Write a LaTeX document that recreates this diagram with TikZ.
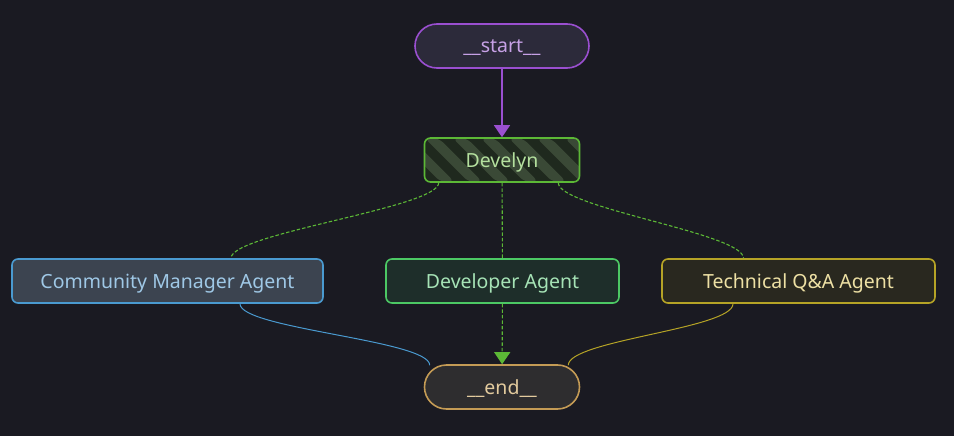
\documentclass[tikz,border=0pt]{standalone}
\usepackage{fontspec}
\setmainfont{Noto Sans}
\usetikzlibrary{arrows.meta}

\definecolor{bg}{HTML}{1A1A22}
\definecolor{purpleline}{HTML}{9A4FD0}
\definecolor{startfill}{HTML}{2C2A3A}
\definecolor{starttext}{HTML}{C7A1E6}
\definecolor{devgreen}{HTML}{5CB836}
\definecolor{stripedark}{HTML}{1F291E}
\definecolor{stripelight}{HTML}{3A4936}
\definecolor{develyntext}{HTML}{B4E09E}
\definecolor{cmafill}{HTML}{3C4450}
\definecolor{cmaline}{HTML}{4A9AD0}
\definecolor{cmatext}{HTML}{9FC8E6}
\definecolor{devfill}{HTML}{1E2E2A}
\definecolor{devline}{HTML}{4CC864}
\definecolor{devtext}{HTML}{A6E3B6}
\definecolor{tqafill}{HTML}{29281F}
\definecolor{tqaline}{HTML}{B5A326}
\definecolor{tqatext}{HTML}{EDE0A4}
\definecolor{endfill}{HTML}{2E2D2F}
\definecolor{endline}{HTML}{C49B55}
\definecolor{endtext}{HTML}{E3CB9E}

\begin{document}
\begin{tikzpicture}[x=1pt,y=-1pt,
box/.style={draw,line width=1.6pt,rounded corners=6pt,minimum height=44pt,
 inner sep=0pt,text height=14pt,text depth=0pt,font=\fontsize{19.5}{22}\selectfont},
term/.style={box,rounded corners=22pt},
flow/.style={draw=devgreen,line width=1.1pt,dash pattern=on 3.5pt off 2pt},
tip/.style={-{Triangle[width=16pt,length=12pt]}}]
 \fill[bg] (0,0) rectangle (954,436);

 \node[term,fill=startfill,draw=purpleline,text=starttext,minimum width=174pt]
 (start) at (502,46) {\_\_start\_\_};
 \node[box,fill=stripedark,draw=devgreen,text=develyntext,minimum width=155pt,
 path picture={
 \foreach \k in {-2,...,6}
 {\fill[stripelight] ([xshift=\k*28pt]path picture bounding box.north west)
 -- ++(14pt,0pt) -- ++(44pt,-44pt) -- ++(-14pt,0pt) -- cycle;}}]
 (develyn) at (502,160) {Develyn};

 \node[box,fill=cmafill,draw=cmaline,text=cmatext,minimum width=311pt]
 (cma) at (167.5,281) {Community Manager Agent};
 \node[box,fill=devfill,draw=devline,text=devtext,minimum width=233pt]
 (dev) at (502.5,281) {Developer Agent};
 \node[box,fill=tqafill,draw=tqaline,text=tqatext,minimum width=273pt]
 (tqa) at (798.5,281) {Technical Q\&A Agent};

 \node[term,fill=endfill,draw=endline,text=endtext,minimum width=155pt]
 (end) at (502,387) {\_\_end\_\_};

 \draw[purpleline,line width=1.3pt,tip] (start) -- (develyn);
 \draw[flow] ([xshift=15pt]develyn.south west) .. controls +(0,25) and +(0,-25)
 .. ([xshift=63.5pt]cma.north);
 \draw[flow] (develyn) -- (dev);
 \draw[flow] ([xshift=-22pt]develyn.south east) .. controls +(0,25) and +(0,-25)
 .. ([xshift=-55pt]tqa.north);

 \draw[cmaline,line width=1pt] ([xshift=72.5pt]cma.south) .. controls +(0,25)
 and +(0,-25) .. ([xshift=6pt,yshift=-1pt]end.north west);
 \draw[flow,tip] (dev) -- (end);
 \draw[tqaline,line width=1pt] ([xshift=-65.5pt]tqa.south) .. controls +(0,25)
 and +(0,-25) .. ([xshift=-12pt,yshift=-1pt]end.north east);
\end{tikzpicture}
\end{document}
